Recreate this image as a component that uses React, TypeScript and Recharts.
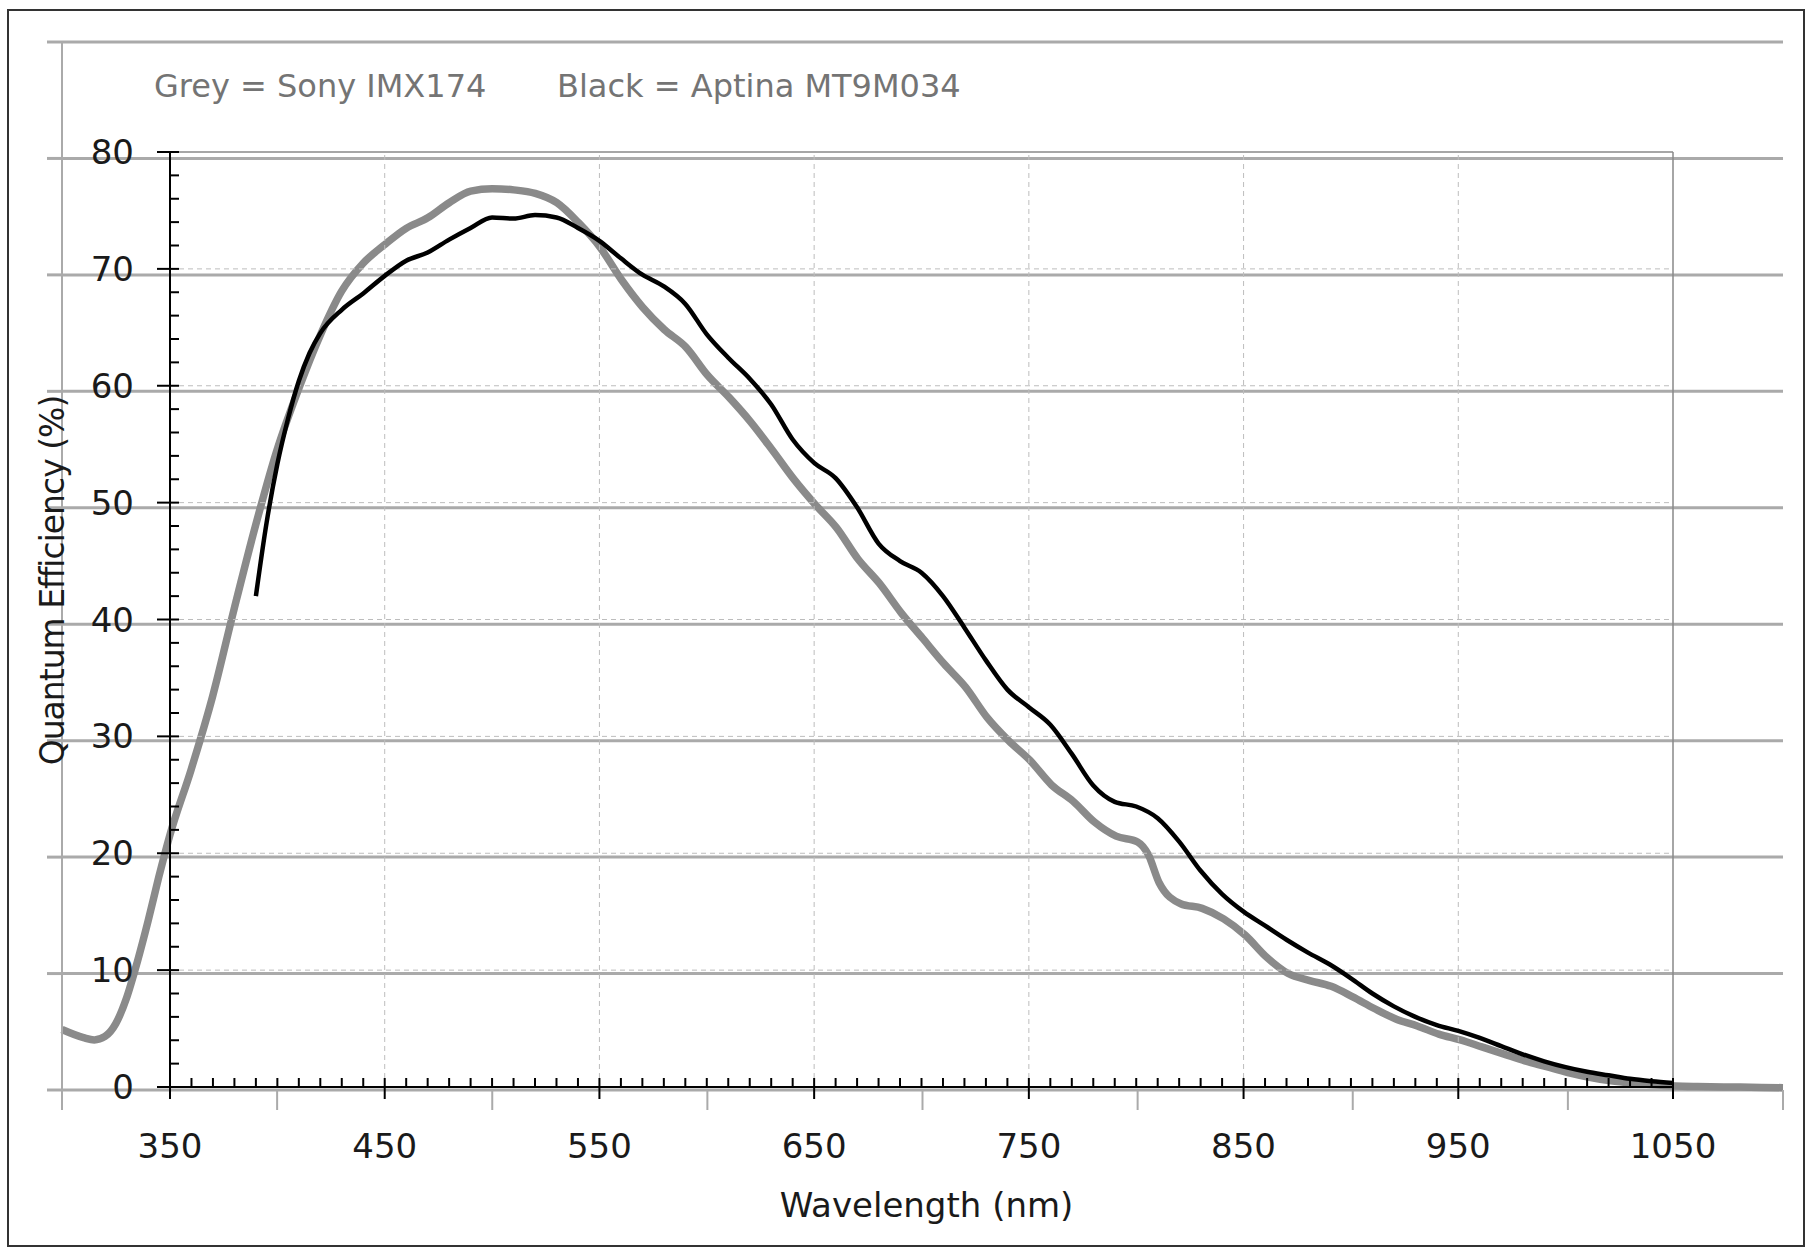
import React from "react";
import {
  LineChart,
  Line,
  XAxis,
  YAxis,
  CartesianGrid,
  ReferenceLine,
} from "recharts";

// Sony IMX174 (grey curve)
const sonyNm = [
  300, 310, 315, 320, 325, 330, 335, 340, 345, 350, 360, 370, 380, 390, 400,
  410, 420, 430, 440, 450, 460, 470, 480, 490, 500, 510, 520, 530, 540, 550,
  560, 570, 580, 590, 600, 610, 620, 630, 640, 650, 660, 670, 680, 690, 700,
  710, 720, 730, 740, 750, 760, 770, 780, 790, 800, 805, 810, 820, 830, 840,
  850, 860, 870, 880, 890, 900, 910, 920, 930, 940, 950, 960, 970, 980, 990,
  1000, 1010, 1020, 1030, 1040, 1050, 1060, 1080, 1100,
];
const sonyQe = [
  5.2, 4.5, 4.3, 4.6, 5.7, 7.9, 11, 14.5, 18.3, 21.8, 27.5, 33.8, 41.3, 48.5,
  55, 60.2, 64.8, 68.6, 71, 72.6, 74, 74.9, 76.2, 77.2, 77.4, 77.3, 77, 76.2,
  74.5, 72.4, 69.6, 67.2, 65.3, 63.8, 61.4, 59.5, 57.4, 55, 52.5, 50.3, 48.3,
  45.6, 43.5, 41, 38.8, 36.6, 34.6, 32, 30, 28.3, 26.2, 24.8, 23, 21.8, 21.3,
  20.2, 17.8, 16, 15.6, 14.7, 13.3, 11.4, 10, 9.4, 8.9, 8, 7, 6.1, 5.5, 4.8,
  4.3, 3.7, 3.1, 2.5, 2.0, 1.5, 1.1, 0.8, 0.6, 0.45, 0.35, 0.3, 0.25, 0.2,
];

// Aptina MT9M034 (black curve)
const aptinaNm = [
  390, 395, 400, 405, 410, 415, 420, 430, 440, 450, 460, 470, 480, 490, 500,
  510, 520, 530, 540, 550, 560, 570, 580, 590, 600, 610, 620, 630, 640, 650,
  660, 670, 680, 690, 700, 710, 720, 730, 740, 750, 760, 770, 780, 790, 800,
  810, 820, 830, 840, 850, 860, 870, 880, 890, 900, 910, 920, 930, 940, 950,
  960, 970, 980, 990, 1000, 1010, 1020, 1030, 1040, 1050,
];
const aptinaQe = [
  42, 48.3, 53.3, 57.2, 60.4, 62.8, 64.5, 66.5, 67.9, 69.4, 70.7, 71.4, 72.5,
  73.5, 74.4, 74.3, 74.6, 74.4, 73.5, 72.4, 70.9, 69.5, 68.5, 67, 64.4, 62.4,
  60.6, 58.4, 55.4, 53.4, 52.1, 49.6, 46.5, 45, 44, 42, 39.3, 36.5, 34, 32.5,
  31, 28.5, 25.8, 24.4, 24, 23, 21, 18.5, 16.5, 15, 13.8, 12.6, 11.5, 10.5, 9.3,
  8, 6.9, 6, 5.3, 4.8, 4.2, 3.5, 2.8, 2.2, 1.7, 1.3, 1.0, 0.7, 0.5, 0.35,
];

const outerXTicks = [300, 400, 500, 600, 700, 800, 900, 1000, 1100];
const outerYTicks = [0, 10, 20, 30, 40, 50, 60, 70, 80, 90];
const innerXTicks = Array.from({ length: 71 }, (_, i) => 350 + i * 10);
const innerYTicks = Array.from({ length: 41 }, (_, i) => i * 2);
const gridX = [450, 550, 650, 750, 850, 950];
const gridY = [10, 20, 30, 40, 50, 60, 70];

const sonyData = sonyNm.map((nm, i) => ({ nm, qe: sonyQe[i] }));
const aptinaData = aptinaNm.map((nm, i) => ({ nm, qe: aptinaQe[i] }));

const FONT = '"DejaVu Sans", Verdana, sans-serif';
const W = 1807;
const H = 1254;

const NoLabel = () => <g />;

const YTick = (props: any) => {
  const { x, y, payload } = props;
  const v = payload.value;
  const major = v % 10 === 0;
  return (
    <g>
      <line
        x1={major ? x - 13 : x}
        x2={x + 9}
        y1={y}
        y2={y}
        stroke="#000"
        strokeWidth={2}
      />
      {major && (
        <text
          x={x - 36}
          y={y}
          textAnchor="end"
          dominantBaseline="central"
          fontFamily={FONT}
          fontSize={34}
          fill="#1a1a1a"
        >
          {v}
        </text>
      )}
    </g>
  );
};

const XTick = (props: any) => {
  const { x, y, payload } = props;
  const v = payload.value;
  const major = (v - 350) % 100 === 0;
  return (
    <g>
      <line
        x1={x}
        x2={x}
        y1={y - 9}
        y2={major ? y + 12 : y}
        stroke="#000"
        strokeWidth={2}
      />
      {major && (
        <text
          x={x}
          y={y + 59}
          textAnchor="middle"
          dominantBaseline="central"
          fontFamily={FONT}
          fontSize={34}
          fill="#1a1a1a"
        >
          {v}
        </text>
      )}
    </g>
  );
};

const yTitle = (props: any) => {
  const vb = props.viewBox;
  const cx = vb.x + 52;
  const cy = vb.y + vb.height / 2 - 39;
  return (
    <text
      transform={`translate(${cx}, ${cy}) rotate(-90)`}
      textAnchor="middle"
      dominantBaseline="central"
      fontFamily={FONT}
      fontSize={33}
      letterSpacing={-1}
      fill="#1a1a1a"
    >
      Quantum Efficiency (%)
    </text>
  );
};

const xTitle = (props: any) => {
  const vb = props.viewBox;
  return (
    <text
      x={vb.x + vb.width / 2 + 5}
      y={vb.y + 118}
      textAnchor="middle"
      dominantBaseline="central"
      fontFamily={FONT}
      fontSize={34}
      fill="#1a1a1a"
    >
      Wavelength (nm)
    </text>
  );
};

export default function App() {
  return (
    <div
      style={{
        position: "absolute",
        left: 0,
        top: 0,
        width: W,
        height: H,
        background: "#fff",
      }}
    >
      {/* outer frame */}
      <div
        style={{
          position: "absolute",
          left: 7,
          top: 9,
          width: 1798,
          height: 1238,
          border: "2px solid #333",
          boxSizing: "border-box",
        }}
      />

      {/* grey chart: Sony IMX174 */}
      <div style={{ position: "absolute", left: 0, top: 0 }}>
        <LineChart
          width={W}
          height={H}
          data={sonyData}
          margin={{ top: 42, right: 24, bottom: 134, left: 0 }}
        >
          <CartesianGrid
            vertical={false}
            stroke="#aaaaaa"
            strokeWidth={3}
          />
          <XAxis
            dataKey="nm"
            type="number"
            domain={[300, 1100]}
            ticks={outerXTicks}
            interval={0}
            height={30}
            axisLine={false}
            tickLine={{ stroke: "#aaaaaa", strokeWidth: 2 }}
            tickSize={20}
            tick={NoLabel}
          />
          <YAxis
            type="number"
            domain={[0, 90]}
            ticks={outerYTicks}
            interval={0}
            width={62}
            axisLine={{ stroke: "#aaaaaa", strokeWidth: 2 }}
            tickLine={{ stroke: "#aaaaaa", strokeWidth: 3 }}
            tickSize={15}
            tick={NoLabel}
          />
          <Line
            type="monotone"
            dataKey="qe"
            stroke="#8a8a8a"
            strokeWidth={7.5}
            dot={false}
            isAnimationActive={false}
          />
        </LineChart>
      </div>

      {/* black chart: Aptina MT9M034 */}
      <div style={{ position: "absolute", left: 0, top: 0 }}>
        <LineChart
          width={W}
          height={H}
          data={aptinaData}
          margin={{ top: 152, right: 134, bottom: 27, left: 0 }}
        >
          {gridY.map((v) => (
            <ReferenceLine
              key={"gy" + v}
              y={v}
              stroke="#bdbdbd"
              strokeDasharray="5 4"
              strokeWidth={1}
            />
          ))}
          {gridX.map((v) => (
            <ReferenceLine
              key={"gx" + v}
              x={v}
              stroke="#bdbdbd"
              strokeDasharray="5 4"
              strokeWidth={1}
            />
          ))}
          <ReferenceLine y={80} stroke="#888" strokeWidth={1.5} />
          <ReferenceLine x={1050} stroke="#888" strokeWidth={1.5} />
          <XAxis
            dataKey="nm"
            type="number"
            domain={[350, 1050]}
            ticks={innerXTicks}
            interval={0}
            height={140}
            axisLine={{ stroke: "#000", strokeWidth: 2 }}
            tickLine={false}
            tickSize={0}
            tickMargin={0}
            tick={XTick}
            label={xTitle}
          />
          <YAxis
            type="number"
            domain={[0, 80]}
            ticks={innerYTicks}
            interval={0}
            width={170}
            axisLine={{ stroke: "#000", strokeWidth: 2 }}
            tickLine={false}
            tickSize={0}
            tickMargin={0}
            tick={YTick}
            label={yTitle}
          />
          <Line
            type="monotone"
            dataKey="qe"
            stroke="#000"
            strokeWidth={4.5}
            dot={false}
            isAnimationActive={false}
          />
        </LineChart>
      </div>

      {/* legend text */}
      <div
        style={{
          position: "absolute",
          left: 154,
          top: 70,
          fontFamily: FONT,
          fontSize: 32,
          lineHeight: "32px",
          color: "#747474",
          whiteSpace: "nowrap",
        }}
      >
        Grey = Sony IMX174
      </div>
      <div
        style={{
          position: "absolute",
          left: 557,
          top: 70,
          fontFamily: FONT,
          fontSize: 32,
          lineHeight: "32px",
          color: "#747474",
          whiteSpace: "nowrap",
        }}
      >
        Black = Aptina MT9M034
      </div>
    </div>
  );
}
